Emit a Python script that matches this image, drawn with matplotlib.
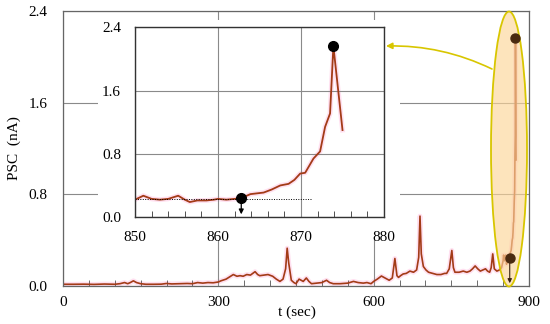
import numpy as np
import matplotlib
matplotlib.use("Agg")
import matplotlib.pyplot as plt
from matplotlib.patches import Ellipse, Rectangle, FancyArrowPatch
from matplotlib.ticker import MultipleLocator

plt.rcParams['font.family'] = ['Liberation Serif', 'DejaVu Serif']
plt.rcParams['font.size'] = 11

# recording before the big event (sec, nA)
t_pre = [0, 20, 40, 60, 80, 100, 110, 119, 125, 130, 136, 142, 150, 160, 175, 190,
         200, 210, 225, 240, 250, 260, 270, 280, 290, 300, 305, 315, 322, 329, 336,
         342, 348, 355, 362, 371, 376, 380, 388, 396, 405, 412, 419, 425, 430, 433,
         436, 441, 446, 450, 456, 460, 464, 470, 475, 480, 490, 500, 509, 515, 522,
         535, 550, 561, 570, 580, 587, 595, 600, 607, 615, 622, 630, 636, 641, 645,
         648, 652, 657, 663, 670, 677, 683, 687, 689.5, 692, 696, 701, 706, 714, 722,
         730, 737, 741, 746, 749, 751, 754, 757, 765, 773, 780, 786, 791, 796, 801,
         806, 811, 816, 820, 824, 827, 830, 833, 838, 843, 847]
v_pre = [0.015, 0.015, 0.016, 0.014, 0.017, 0.015, 0.02, 0.03, 0.02, 0.03, 0.045, 0.03,
         0.02, 0.015, 0.015, 0.016, 0.022, 0.018, 0.02, 0.022, 0.02, 0.03, 0.025, 0.03,
         0.028, 0.035, 0.045, 0.06, 0.08, 0.10, 0.085, 0.09, 0.085, 0.10, 0.095, 0.125,
         0.10, 0.09, 0.095, 0.10, 0.085, 0.06, 0.04, 0.06, 0.15, 0.33, 0.20, 0.05, 0.03,
         0.02, 0.06, 0.05, 0.04, 0.07, 0.04, 0.02, 0.025, 0.03, 0.05, 0.03, 0.02, 0.02,
         0.025, 0.04, 0.03, 0.025, 0.03, 0.02, 0.04, 0.06, 0.087, 0.07, 0.05, 0.07,
         0.24, 0.09, 0.075, 0.09, 0.105, 0.11, 0.13, 0.12, 0.14, 0.25, 0.61, 0.28, 0.17,
         0.14, 0.12, 0.11, 0.10, 0.10, 0.11, 0.11, 0.15, 0.25, 0.31, 0.16, 0.12, 0.12,
         0.13, 0.12, 0.13, 0.15, 0.175, 0.15, 0.13, 0.14, 0.15, 0.13, 0.12, 0.16, 0.28,
         0.15, 0.13, 0.14, 0.16]

# zoomed part 850-875 sec
t_zoom = [850, 851, 852, 853, 854, 855.2, 856, 856.6, 857.5, 858.6, 859.5, 860, 861,
          862, 862.8, 863.9, 865.5, 866.5, 867.5, 868.5, 869.2, 869.9, 870.5, 871.5,
          872.3, 872.9, 873.5, 873.9, 875]
v_zoom = [0.22, 0.27, 0.23, 0.22, 0.23, 0.27, 0.22, 0.19, 0.21, 0.21, 0.22, 0.23, 0.22,
          0.23, 0.24, 0.29, 0.31, 0.35, 0.40, 0.42, 0.47, 0.55, 0.56, 0.74, 0.83, 1.14,
          1.31, 2.16, 1.10]

# marked points: onset and peak
t_marks = [862.8, 873.9]
v_marks = [0.24, 2.16]
baseline = 0.23
baseline_end = 871.3

t_all = t_pre + t_zoom
v_all = v_pre + v_zoom

line_col = '#a33b17'
halo_col = '#ffe0f0'

fig = plt.figure(figsize=(5.5, 3.24), dpi=100)

# main axes
ax = fig.add_axes([0.1145, 0.1173, 0.8473, 0.8488])
ax.plot(t_all, v_all, color=halo_col, lw=3.5, zorder=1, solid_joinstyle='round')
ax.plot(t_all, v_all, color=line_col, lw=1.2, zorder=2)
ax.annotate('', xy=(t_marks[0], 0), xytext=(t_marks[0], v_marks[0]),
            arrowprops=dict(arrowstyle='-|>', color='#3a2410', lw=0.8, mutation_scale=6),
            zorder=5)
ax.plot(t_marks, v_marks, 'o', color='#4a2a10', ms=6.5, zorder=5, clip_on=False)
ax.set_xlim(0, 900)
ax.set_ylim(0, 2.4)
ax.set_xticks([0, 300, 600, 900])
ax.set_yticks([0, 0.8, 1.6, 2.4])
ax.set_yticklabels(['0.0', '0.8', '1.6', '2.4'])
ax.xaxis.set_minor_locator(MultipleLocator(50))
ax.tick_params(axis='y', length=0, pad=11)
ax.tick_params(axis='x', which='major', length=0, pad=7)
ax.tick_params(axis='x', which='minor', direction='in', length=4, color='#555555')
ax.grid(True, color='#8a8a8a', lw=0.8)
for s in ax.spines.values():
    s.set_color('#666666')
    s.set_linewidth(0.9)
ax.set_ylabel('PSC  (nA)')
ax.yaxis.set_label_coords(-0.09, 0.5)
ax.set_xlabel('t (sec)')
ax.xaxis.set_label_coords(0.502, -0.072)

# yellow ellipse around the event (inside the main axes, under the dots)
ell_xy = (509 / 550, 1 - 149 / 324)
ell_w, ell_h = 36 / 550, 275 / 324
ax.add_patch(Ellipse(ell_xy, ell_w, ell_h, transform=fig.transFigure,
                     facecolor='#fdd699', alpha=0.65, edgecolor='none', zorder=4,
                     clip_on=False))
ax.add_patch(Ellipse(ell_xy, ell_w, ell_h, transform=fig.transFigure,
                     facecolor='none', edgecolor='#d8c600', lw=1.3, zorder=4,
                     clip_on=False))

# white area behind the inset
fig.patches.append(Rectangle((98 / 550, 1 - 240 / 324), 302 / 550, 220 / 324,
                             transform=fig.transFigure, facecolor='white',
                             edgecolor='none', zorder=1))

# inset axes
ax2 = fig.add_axes([0.2455, 0.330, 0.4527, 0.586])
ax2.set_zorder(2)
ax2.plot(t_zoom, v_zoom, color=halo_col, lw=3.5, zorder=1, solid_joinstyle='round')
ax2.plot(t_zoom, v_zoom, color=line_col, lw=1.3, zorder=2)
ax2.plot([850, baseline_end], [baseline, baseline], ls=(0, (1, 1.5)), color='black',
         lw=0.7, zorder=2)
ax2.plot(t_marks, v_marks, 'o', color='black', ms=7, zorder=3)
ax2.annotate('', xy=(t_marks[0], 0), xytext=(t_marks[0], v_marks[0]),
             arrowprops=dict(arrowstyle='-|>', color='black', lw=0.9, mutation_scale=7),
             zorder=3, annotation_clip=False)
ax2.set_xlim(850, 880)
ax2.set_ylim(0, 2.4)
ax2.set_xticks([850, 860, 870, 880])
ax2.set_yticks([0, 0.8, 1.6, 2.4])
ax2.set_yticklabels(['0.0', '0.8', '1.6', '2.4'])
ax2.xaxis.set_minor_locator(MultipleLocator(2))
ax2.tick_params(axis='y', length=0, pad=10)
ax2.tick_params(axis='x', which='major', length=0, pad=10)
ax2.tick_params(axis='x', which='minor', direction='in', length=4, color='#333333')
ax2.grid(True, color='#8a8a8a', lw=0.8)
for s in ax2.spines.values():
    s.set_color('#333333')
    s.set_linewidth(1.0)

# curved arrow from the ellipse to the inset, drawn on top of everything
arr = FancyArrowPatch((492 / 550, 1 - 69 / 324), (386 / 550, 1 - 46 / 324),
                      transform=fig.transFigure, arrowstyle='-|>', color='#d8c600',
                      lw=1.2, mutation_scale=9, connectionstyle='arc3,rad=0.12',
                      shrinkA=0, shrinkB=0, zorder=6)
fig.patches.append(arr)

fig.savefig('out.png', dpi=100)
